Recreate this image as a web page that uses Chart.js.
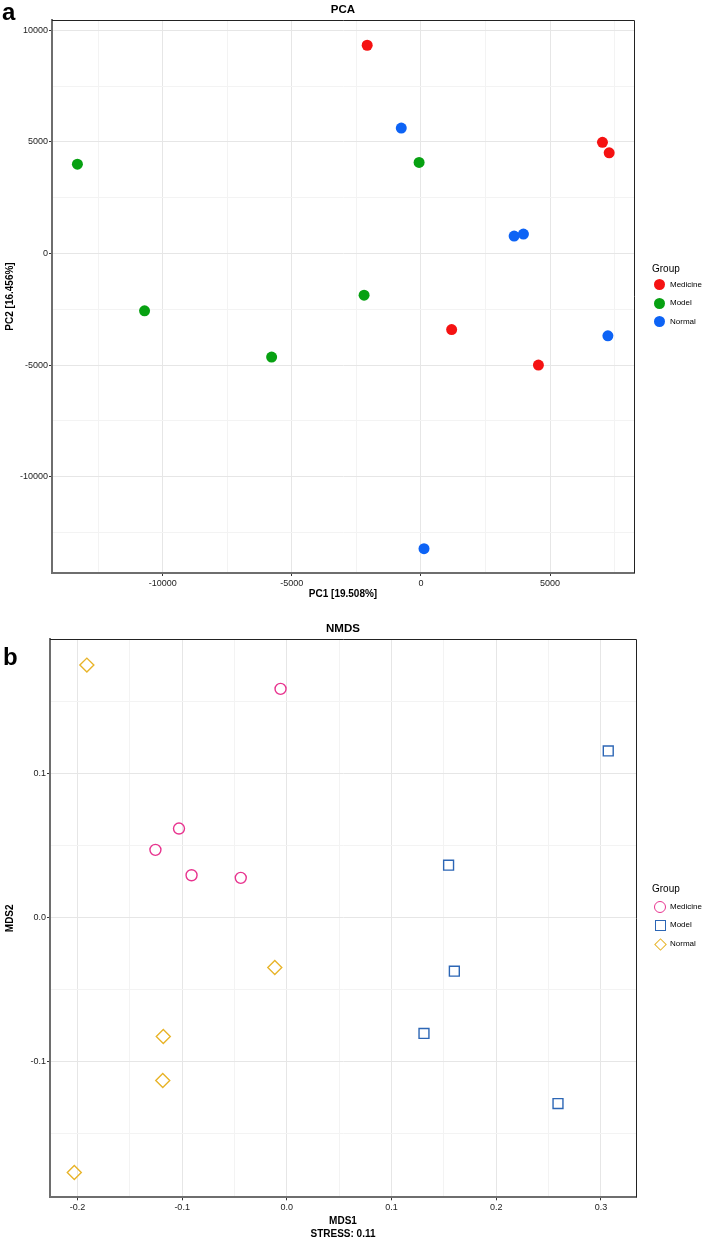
<!DOCTYPE html>
<html>
<head>
<meta charset="utf-8">
<script src="https://cdn.jsdelivr.net/npm/chart.js@4.4.0/dist/chart.umd.min.js"></script>
<style>
  body { margin: 0; background: #fff; font-family: "Liberation Sans", Arial, sans-serif; }
  #wrap { position: relative; width: 706px; height: 1240px; }
  canvas { position: absolute; left: 0; }
  #pca { top: 0; }
  #nmds { top: 600px; }
  .panel { position: absolute; font-weight: bold; font-size: 24px; line-height: 24px; color: #000; }
  .ptitle { position: absolute; left: 243px; width: 200px; text-align: center; font-weight: bold; font-size: 11.5px; line-height: 12px; color: #000; }
  .legend { position: absolute; left: 650px; width: 56px; height: 80px; }
  .legend .head { position: absolute; left: 2px; top: 0; font-size: 10px; line-height: 10px; color: #000; }
  .legend .item { position: absolute; left: 0; height: 12px; width: 56px; }
  .legend .item span { position: absolute; left: 20px; top: 0; font-size: 8px; line-height: 12px; color: #000; }
  .legend .mk { position: absolute; box-sizing: border-box; }
</style>
</head>
<body>
<div id="wrap">
  <canvas id="pca" width="706" height="600"></canvas>
  <canvas id="nmds" width="706" height="640"></canvas>
  <div class="panel" style="left:2px; top:0px">a</div>
  <div class="panel" style="left:3px; top:645px">b</div>
  <div class="ptitle" style="top:3px">PCA</div>
  <div class="ptitle" style="top:622px">NMDS</div>
  <div class="legend" id="legPca" style="top:264px"><div class="head">Group</div></div>
  <div class="legend" id="legNmds" style="top:884px"><div class="head">Group</div></div>
</div>

<script>
// groups
const groups = ['Medicine', 'Model', 'Normal'];

// PCA scores
const pcaMedicineX = [-2080, 7030, 7290, 1190, 4550];
const pcaMedicineY = [9330, 4980, 4510, -3410, -5000];
const pcaModelX = [-13300, -10700, -5780, -2200, -70];
const pcaModelY = [4000, -2570, -4640, -1870, 4080];
const pcaNormalX = [-760, 3610, 3970, 7240, 120];
const pcaNormalY = [5620, 780, 870, -3690, -13230];

const pcaXTicks = [-10000, -5000, 0, 5000];
const pcaYTicks = [-10000, -5000, 0, 5000, 10000];
const pcaXGrid = [-12500, -10000, -7500, -5000, -2500, 0, 2500, 5000, 7500];
const pcaYGrid = [-12500, -10000, -7500, -5000, -2500, 0, 2500, 5000, 7500, 10000];

// NMDS scores
const nmdsMedicineX = [-0.006, -0.103, -0.1255, -0.091, -0.044];
const nmdsMedicineY = [0.1585, 0.0617, 0.0469, 0.0293, 0.0275];
const nmdsModelX = [0.307, 0.1545, 0.160, 0.131, 0.259];
const nmdsModelY = [0.1155, 0.0363, -0.0372, -0.0804, -0.129];
const nmdsNormalX = [-0.191, -0.0115, -0.118, -0.1185, -0.203];
const nmdsNormalY = [0.175, -0.0347, -0.0825, -0.113, -0.1768];

const nmdsXTicks = [-0.2, -0.1, 0.0, 0.1, 0.2, 0.3];
const nmdsYTicks = [-0.1, 0.0, 0.1];
const nmdsXGrid = [-0.2, -0.15, -0.1, -0.05, 0, 0.05, 0.1, 0.15, 0.2, 0.25, 0.3];
const nmdsYGrid = [-0.15, -0.1, -0.05, 0, 0.05, 0.1, 0.15];

const pcaColors = ['#f51212', '#07a112', '#0d63f5'];
const nmdsColors = ['#e8348f', '#2c66b5', '#e8b42a'];

Chart.defaults.font.family = '"Liberation Sans", Arial, sans-serif';

const pts = (xs, ys) => xs.map((x, i) => ({ x: x, y: ys[i] }));

// top + right lines of the panel box
const framePlugin = {
  id: 'frame',
  beforeDatasetsDraw(chart) {
    const ctx = chart.ctx, a = chart.chartArea;
    ctx.save();
    ctx.strokeStyle = '#222';
    ctx.lineWidth = 1;
    ctx.beginPath();
    ctx.moveTo(a.left, Math.round(a.top) + 0.5);
    ctx.lineTo(Math.round(a.right) + 0.5, Math.round(a.top) + 0.5);
    ctx.lineTo(Math.round(a.right) + 0.5, a.bottom);
    ctx.stroke();
    ctx.restore();
  }
};

function makeAxis(isY, min, max, gridVals, majorVals, fmt, title, fitSize) {
  const isMajor = v => majorVals.some(m => Math.abs(m - v) < 1e-9);
  return {
    type: 'linear',
    position: isY ? 'left' : 'bottom',
    min: min,
    max: max,
    afterBuildTicks: s => { s.ticks = gridVals.map(v => ({ value: v })); },
    afterFit: s => { if (isY) s.width = fitSize; else s.height = fitSize; },
    grid: {
      color: c => isMajor(c.tick.value) ? '#e6e6e6' : '#f3f3f3',
      lineWidth: 1,
      drawTicks: true,
      tickLength: 3,
      tickWidth: 1,
      tickColor: c => isMajor(c.tick.value) ? '#333' : 'rgba(0,0,0,0)'
    },
    border: { display: true, color: '#6e6e6e', width: 2 },
    ticks: {
      autoSkip: false,
      maxRotation: 0,
      padding: isY ? 1 : 2,
      color: '#222',
      font: { size: 9 },
      callback: v => isMajor(v) ? fmt(v) : ''
    },
    title: {
      display: true,
      text: title,
      color: '#000',
      font: { size: 10, weight: 'bold', lineHeight: 1.25 },
      padding: { top: 2, bottom: 0 }
    }
  };
}

const baseOpts = (pad, scales) => ({
  responsive: false,
  animation: false,
  events: [],
  layout: { padding: pad },
  plugins: { legend: { display: false }, title: { display: false }, tooltip: { enabled: false } },
  scales: scales
});

// PCA
new Chart(document.getElementById('pca'), {
  type: 'scatter',
  data: {
    datasets: [
      { label: groups[0], data: pts(pcaMedicineX, pcaMedicineY) },
      { label: groups[1], data: pts(pcaModelX, pcaModelY) },
      { label: groups[2], data: pts(pcaNormalX, pcaNormalY) }
    ].map((d, i) => Object.assign(d, {
      pointStyle: 'circle', pointRadius: 5.5,
      backgroundColor: pcaColors[i], borderColor: pcaColors[i], borderWidth: 0
    }))
  },
  options: baseOpts({ top: 20, right: 72, left: 2, bottom: 0 }, {
    x: makeAxis(false, -14284, 8251, pcaXGrid, pcaXTicks, v => String(v), 'PC1 [19.508%]', 27),
    y: makeAxis(true, -14318, 10462, pcaYGrid, pcaYTicks, v => String(v), 'PC2 [16.456%]', 50)
  }),
  plugins: [framePlugin]
});

// NMDS
const nmdsStyles = ['circle', 'rect', 'rectRot'];
const nmdsRadius = [5.5, 7, 7];
new Chart(document.getElementById('nmds'), {
  type: 'scatter',
  data: {
    datasets: [
      { label: groups[0], data: pts(nmdsMedicineX, nmdsMedicineY) },
      { label: groups[1], data: pts(nmdsModelX, nmdsModelY) },
      { label: groups[2], data: pts(nmdsNormalX, nmdsNormalY) }
    ].map((d, i) => Object.assign(d, {
      pointStyle: nmdsStyles[i], pointRadius: nmdsRadius[i],
      backgroundColor: 'rgba(0,0,0,0)', borderColor: nmdsColors[i], borderWidth: 1.4
    }))
  },
  options: baseOpts({ top: 39.3, right: 70, left: 2, bottom: 0 }, {
    x: makeAxis(false, -0.2262, 0.3335, nmdsXGrid, nmdsXTicks, v => v.toFixed(1), ['MDS1', 'STRESS: 0.11'], 42.7),
    y: makeAxis(true, -0.194, 0.1929, nmdsYGrid, nmdsYTicks, v => v.toFixed(1), 'MDS2', 48)
  }),
  plugins: [framePlugin]
});

// legends
function buildLegend(id, kind, colors, first, step) {
  const box = document.getElementById(id);
  groups.forEach((g, i) => {
    const item = document.createElement('div');
    item.className = 'item';
    item.style.top = (first + i * step - 6) + 'px';
    const mk = document.createElement('div');
    mk.className = 'mk';
    const k = kind[i];
    if (k === 'dot') {
      Object.assign(mk.style, { left: '4px', top: '0.5px', width: '11px', height: '11px', borderRadius: '50%', background: colors[i] });
    } else if (k === 'circle') {
      Object.assign(mk.style, { left: '4px', top: '0px', width: '12px', height: '12px', borderRadius: '50%', border: '1.4px solid ' + colors[i] });
    } else if (k === 'square') {
      Object.assign(mk.style, { left: '5px', top: '1px', width: '10.5px', height: '10.5px', border: '1.4px solid ' + colors[i] });
    } else {
      Object.assign(mk.style, { left: '5.5px', top: '1.5px', width: '9px', height: '9px', border: '1.4px solid ' + colors[i], transform: 'rotate(45deg)' });
    }
    const t = document.createElement('span');
    t.textContent = g;
    item.appendChild(mk);
    item.appendChild(t);
    box.appendChild(item);
  });
}
buildLegend('legPca', ['dot', 'dot', 'dot'], pcaColors, 20.8, 18.4);
buildLegend('legNmds', ['circle', 'square', 'diamond'], nmdsColors, 22.5, 18.8);
</script>
</body>
</html>
